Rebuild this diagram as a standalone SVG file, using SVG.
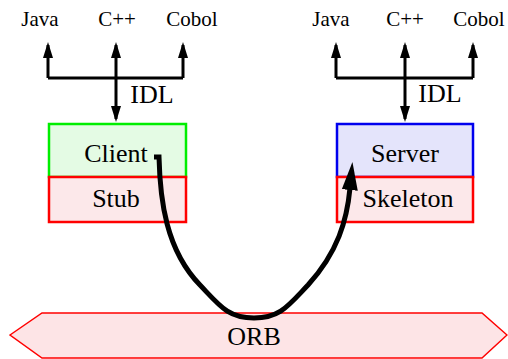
<svg xmlns="http://www.w3.org/2000/svg" width="508" height="359" viewBox="0 0 508 359">
  <defs>
    <marker id="head" viewBox="0 0 16 10" refX="13" refY="5" markerWidth="16" markerHeight="10" markerUnits="userSpaceOnUse" orient="auto">
      <path d="M0,0 L16,5 L0,10 Z" fill="#000"/>
    </marker>
    <marker id="bighead" viewBox="0 0 28 16" refX="2" refY="8" markerWidth="28" markerHeight="16" markerUnits="userSpaceOnUse" orient="auto">
      <path d="M0,0 L28,8 L0,16 Z" fill="#000"/>
    </marker>
  </defs>
  <style>
    .lbl { font-family: "Liberation Serif", "Times New Roman", serif; fill: #000; text-anchor: middle; }
    .lang { font-size: 21px; }
    .big { font-size: 26px; }
    .wire { fill: none; stroke: #000; stroke-width: 3; }
    .box { stroke-width: 2.5; }
  </style>

  <!-- connectors -->
  <g id="connectors">
    <!-- client-side IDL mapping -->
    <path class="wire" d="M48,78 H183"/>
    <path class="wire" d="M48,78 V45" marker-end="url(#head)"/>
    <path class="wire" d="M183,78 V45" marker-end="url(#head)"/>
    <path class="wire" d="M116,78 V45" marker-end="url(#head)"/>
    <path class="wire" d="M116,78 V119" marker-end="url(#head)"/>
    <!-- server-side IDL mapping -->
    <path class="wire" d="M336,78 H473"/>
    <path class="wire" d="M336,78 V45" marker-end="url(#head)"/>
    <path class="wire" d="M473,78 V45" marker-end="url(#head)"/>
    <path class="wire" d="M405,78 V45" marker-end="url(#head)"/>
    <path class="wire" d="M405,78 V119" marker-end="url(#head)"/>
  </g>

  <!-- ORB bus -->
  <g id="orb">
    <polygon points="10,335 42,313 482,313 507,335 482,358 42,358" fill="#fde4e6" stroke="#ff0000" stroke-width="1.5"/>
    <text class="lbl big" x="254" y="345">ORB</text>
  </g>

  <!-- client side -->
  <g id="client">
    <rect class="box" x="49" y="124" width="137" height="53" fill="#e4fbe4" stroke="#00ee00"/>
    <text class="lbl big" x="116" y="162">Client</text>
  </g>
  <g id="stub">
    <rect class="box" x="49" y="177" width="137" height="45" fill="#fce8ea" stroke="#ff0000"/>
    <text class="lbl big" x="116" y="207">Stub</text>
  </g>

  <!-- server side -->
  <g id="server">
    <rect class="box" x="337" y="124" width="136" height="53" fill="#e4e4fb" stroke="#0000ee"/>
    <text class="lbl big" x="405" y="162">Server</text>
  </g>
  <g id="skeleton">
    <rect class="box" x="337" y="177" width="136" height="45" fill="#fce8ea" stroke="#ff0000"/>
    <text class="lbl big" x="408" y="207">Skeleton</text>
  </g>

  <!-- language labels -->
  <g id="client-langs">
    <text class="lbl lang" x="40" y="26">Java</text>
    <text class="lbl lang" x="117" y="26">C++</text>
    <text class="lbl lang" x="192" y="26">Cobol</text>
    <text class="lbl big" x="152" y="103">IDL</text>
  </g>
  <g id="server-langs">
    <text class="lbl lang" x="331" y="26">Java</text>
    <text class="lbl lang" x="405" y="26">C++</text>
    <text class="lbl lang" x="479" y="26">Cobol</text>
    <text class="lbl big" x="440" y="102">IDL</text>
  </g>

  <!-- request path through the ORB -->
  <g id="request">
    <path d="M154,157 H159 C160,200 166,250 200,285 C220,306 228,318 254,318 C280,318 288,306 308,285 C338,252 347,220 350,188" fill="none" stroke="#000" stroke-width="5" marker-end="url(#bighead)"/>
  </g>
</svg>
